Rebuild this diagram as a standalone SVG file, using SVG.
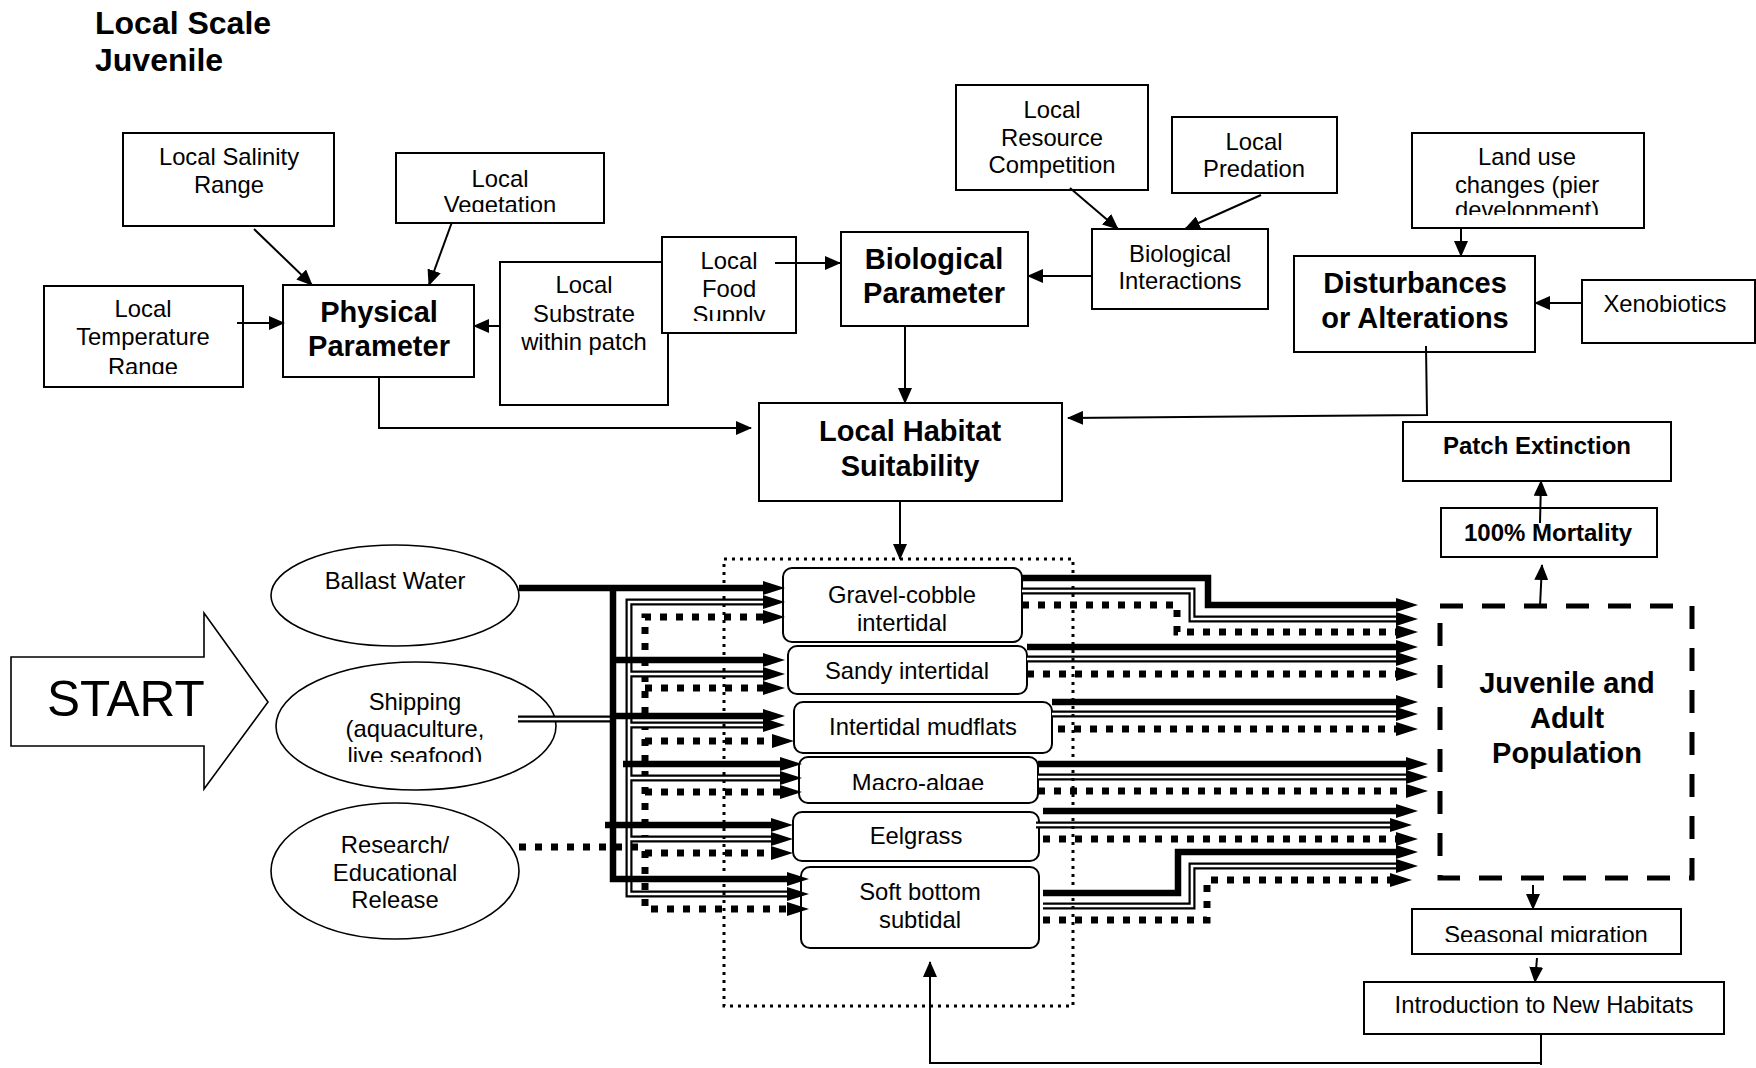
<svg xmlns="http://www.w3.org/2000/svg" width="1756" height="1068" viewBox="0 0 1756 1068">
<defs>
<style>
text{font-family:"Liberation Sans",Arial,sans-serif;fill:#000}
.t{font-size:23.8px;text-anchor:middle}
.b{font-size:29px;font-weight:bold;text-anchor:middle}
.box{fill:#fff;stroke:#000;stroke-width:2}
.ell{fill:#fff;stroke:#000;stroke-width:1.6}
.ln{fill:none;stroke:#000;stroke-width:2}
.thk{fill:none;stroke:#000;stroke-width:6.5}
.dbl{fill:none;stroke:#000;stroke-width:7}
.dblw{fill:none;stroke:#fff;stroke-width:2.6}
.dot{fill:none;stroke:#000;stroke-width:7;stroke-dasharray:7 9}
.frame{fill:none;stroke:#000;stroke-width:3;stroke-dasharray:3 5}
.juv{fill:#fff;stroke:#000;stroke-width:5;stroke-dasharray:23 19}
</style>
<marker id="ah" viewBox="0 0 16 14" refX="15" refY="7" markerWidth="16" markerHeight="14" markerUnits="userSpaceOnUse" orient="auto"><path d="M0,0 L16,7 L0,14 z" fill="#000"/></marker>
<marker id="bh" viewBox="0 0 22 14" refX="0" refY="7" markerWidth="22" markerHeight="14" markerUnits="userSpaceOnUse" orient="auto-start-reverse"><path d="M0,0 L22,7 L0,14 z" fill="#000"/></marker>
<clipPath id="cVeg"><rect x="396" y="153" width="208" height="59"/></clipPath>
<clipPath id="cTemp"><rect x="44" y="286" width="199" height="88"/></clipPath>
<clipPath id="cFood"><rect x="662" y="237" width="134" height="84"/></clipPath>
<clipPath id="cLand"><rect x="1411" y="133" width="233" height="82"/></clipPath>
<clipPath id="cShip"><rect x="275" y="662" width="281" height="100"/></clipPath>
<clipPath id="cMacro"><rect x="799" y="757" width="239" height="33"/></clipPath>
<clipPath id="cSeas"><rect x="1412" y="909" width="269" height="33"/></clipPath>
</defs>
<rect width="1756" height="1068" fill="#fff"/>

<g id="title">
<text x="95" y="34" font-size="32" font-weight="bold">Local Scale</text>
<text x="95" y="71" font-size="32" font-weight="bold">Juvenile</text>
</g>

<g id="local-salinity">
<rect class="box" x="123" y="133" width="211" height="93"/>
<text class="t" x="229" y="165">Local Salinity</text>
<text class="t" x="229" y="193">Range</text>
</g>
<g id="local-vegetation">
<rect class="box" x="396" y="153" width="208" height="70"/>
<g clip-path="url(#cVeg)">
<text class="t" x="500" y="187">Local</text>
<text class="t" x="500" y="213">Vegetation</text>
</g>
</g>
<g id="local-temperature">
<rect class="box" x="44" y="286" width="199" height="101"/>
<g clip-path="url(#cTemp)">
<text class="t" x="143" y="317">Local</text>
<text class="t" x="143" y="345">Temperature</text>
<text class="t" x="143" y="375">Range</text>
</g>
</g>
<g id="physical-parameter">
<rect class="box" x="283" y="285" width="191" height="92"/>
<text class="b" x="379" y="322">Physical</text>
<text class="b" x="379" y="356">Parameter</text>
</g>
<g id="local-substrate">
<rect class="box" x="500" y="262" width="168" height="143"/>
<text class="t" x="584" y="293">Local</text>
<text class="t" x="584" y="322">Substrate</text>
<text class="t" x="584" y="350">within patch</text>
</g>
<g id="local-food">
<rect class="box" x="662" y="237" width="134" height="96"/>
<g clip-path="url(#cFood)">
<text class="t" x="729" y="269">Local</text>
<text class="t" x="729" y="297">Food</text>
<text class="t" x="729" y="323">Supply</text>
</g>
</g>
<g id="biological-parameter">
<rect class="box" x="841" y="232" width="187" height="94"/>
<text class="b" x="934" y="269">Biological</text>
<text class="b" x="934" y="303">Parameter</text>
</g>
<g id="local-resource-competition">
<rect class="box" x="956" y="85" width="192" height="105"/>
<text class="t" x="1052" y="118">Local</text>
<text class="t" x="1052" y="146">Resource</text>
<text class="t" x="1052" y="173">Competition</text>
</g>
<g id="local-predation">
<rect class="box" x="1172" y="117" width="165" height="76"/>
<text class="t" x="1254" y="150">Local</text>
<text class="t" x="1254" y="177">Predation</text>
</g>
<g id="biological-interactions">
<rect class="box" x="1092" y="229" width="176" height="80"/>
<text class="t" x="1180" y="262">Biological</text>
<text class="t" x="1180" y="289">Interactions</text>
</g>
<g id="land-use">
<rect class="box" x="1412" y="133" width="232" height="95"/>
<g clip-path="url(#cLand)">
<text class="t" x="1527" y="165">Land use</text>
<text class="t" x="1527" y="193">changes (pier</text>
<text class="t" x="1527" y="218">development)</text>
</g>
</g>
<g id="disturbances">
<rect class="box" x="1294" y="256" width="241" height="96"/>
<text class="b" x="1415" y="293">Disturbances</text>
<text class="b" x="1415" y="328">or Alterations</text>
</g>
<g id="xenobiotics">
<rect class="box" x="1582" y="280" width="173" height="63"/>
<text class="t" x="1665" y="312">Xenobiotics</text>
</g>
<g id="local-habitat-suitability">
<rect class="box" x="759" y="403" width="303" height="98"/>
<text class="b" x="910" y="441">Local Habitat</text>
<text class="b" x="910" y="476">Suitability</text>
</g>
<g id="patch-extinction">
<rect class="box" x="1403" y="422" width="268" height="59"/>
<text x="1537" y="454" font-size="24" font-weight="bold" text-anchor="middle">Patch Extinction</text>
</g>
<g id="mortality">
<rect class="box" x="1441" y="508" width="216" height="49"/>
<text x="1548" y="541" font-size="24" font-weight="bold" text-anchor="middle">100% Mortality</text>
</g>
<g id="start">
<polygon points="11,657 204,657 204,613 268,702 204,789 204,746 11,746" fill="#fff" stroke="#000" stroke-width="1.6"/>
<text x="47" y="716" font-size="49.5">START</text>
</g>
<g id="ballast-water">
<ellipse class="ell" cx="395" cy="595.5" rx="124" ry="50.5"/>
<text class="t" x="395" y="589">Ballast Water</text>
</g>
<g id="shipping">
<ellipse class="ell" cx="416" cy="726" rx="140" ry="64"/>
<g clip-path="url(#cShip)">
<text class="t" x="415" y="710">Shipping</text>
<text class="t" x="415" y="737">(aquaculture,</text>
<text class="t" x="415" y="764">live seafood)</text>
</g>
</g>
<g id="research-release">
<ellipse class="ell" cx="395" cy="871" rx="124" ry="68"/>
<text class="t" x="395" y="853">Research/</text>
<text class="t" x="395" y="881">Educational</text>
<text class="t" x="395" y="908">Release</text>
</g>
<g id="gravel-cobble">
<rect class="box" x="783" y="568" width="239" height="74" rx="9"/>
<text class="t" x="902" y="603">Gravel-cobble</text>
<text class="t" x="902" y="631">intertidal</text>
</g>
<g id="sandy-intertidal">
<rect class="box" x="788" y="646" width="239" height="48" rx="9"/>
<text class="t" x="907" y="679">Sandy intertidal</text>
</g>
<g id="intertidal-mudflats">
<rect class="box" x="794" y="702" width="258" height="51" rx="9"/>
<text class="t" x="923" y="735">Intertidal mudflats</text>
</g>
<g id="macro-algae">
<rect class="box" x="799" y="757" width="239" height="46" rx="9"/>
<g clip-path="url(#cMacro)"><text class="t" x="918" y="791">Macro-algae</text></g>
</g>
<g id="eelgrass">
<rect class="box" x="793" y="812" width="246" height="49" rx="9"/>
<text class="t" x="916" y="844">Eelgrass</text>
</g>
<g id="soft-bottom">
<rect class="box" x="801" y="867" width="238" height="81" rx="9"/>
<text class="t" x="920" y="900">Soft bottom</text>
<text class="t" x="920" y="928">subtidal</text>
</g>
<g id="juvenile-adult">
<rect class="juv" x="1440" y="606" width="252" height="272"/>
<text class="b" x="1567" y="693">Juvenile and</text>
<text class="b" x="1567" y="728">Adult</text>
<text class="b" x="1567" y="763">Population</text>
</g>
<g id="seasonal-migration">
<rect class="box" x="1412" y="909" width="269" height="45"/>
<g clip-path="url(#cSeas)"><text class="t" x="1546" y="943">Seasonal migration</text></g>
</g>
<g id="introduction">
<rect class="box" x="1364" y="982" width="360" height="52"/>
<text class="t" x="1544" y="1013">Introduction to New Habitats</text>
</g>

<g id="connectors">
<g marker-end="url(#ah)" class="ln">
<path d="M254,229 L312,285"/>
<path d="M452,222 L429,285"/>
<path d="M237,323 H284"/>
<path d="M500,326 H474"/>
<path d="M775,263 H840"/>
<path d="M1092,276 H1028"/>
<path d="M1070,188 L1118,229"/>
<path d="M1261,195 L1185,229"/>
<path d="M905,326 V403"/>
<path d="M1461,228 V256"/>
<path d="M1582,303 H1535"/>
<path d="M379,377 V428 H751"/>
<path d="M1426,346 L1427,415 L1068,418"/>
<path d="M900,501 V559"/>
<path d="M1540,523 L1541,481"/>
<path d="M1540,606 L1542,565"/>
<path d="M1533,885 V909"/>
<path d="M1537,958 L1535,982"/>
<path d="M1541,1063 H930 V962"/>
</g>
<path class="ln" d="M1541,1034 V1065"/>

<g class="dot" marker-end="url(#bh)">
<path d="M519,847 H645" marker-end="none"/>
<path d="M763,617 H645 V909 H787" marker-start="url(#bh)"/>
<path d="M645,688 H763"/>
<path d="M645,741 H772"/>
<path d="M645,792 H780"/>
<path d="M645,853 H771"/>
<path d="M1022,605 H1177 V632 H1396"/>
<path d="M1027,674 H1396"/>
<path d="M1058,729 H1396"/>
<path d="M1038,791 H1406"/>
<path d="M1043,839 H1396"/>
<path d="M1043,920 H1207 V880 H1390"/>
</g>

<g class="dbl" marker-end="url(#bh)">
<path d="M518,719 H613" marker-end="none"/>
<path d="M763,602 H629 V894 H787" marker-start="url(#bh)"/>
<path d="M629,674 H763"/>
<path d="M629,725 H763"/>
<path d="M629,778 H780"/>
<path d="M629,839 H771"/>
<path d="M1022,591 H1192 V619 H1396"/>
<path d="M1027,659 H1396"/>
<path d="M1052,714 H1396"/>
<path d="M1038,777 H1406"/>
<path d="M1036,825 H1390"/>
<path d="M1043,906 H1192 V866 H1396"/>
</g>
<g class="dblw">
<path d="M518,719 H613"/>
<path d="M763,602 H629 V894 H787"/>
<path d="M629,674 H763"/>
<path d="M629,725 H763"/>
<path d="M629,778 H780"/>
<path d="M629,839 H771"/>
<path d="M1022,591 H1192 V619 H1396"/>
<path d="M1027,659 H1396"/>
<path d="M1052,714 H1396"/>
<path d="M1038,777 H1406"/>
<path d="M1036,825 H1390"/>
<path d="M1043,906 H1192 V866 H1396"/>
</g>

<g class="thk" marker-end="url(#bh)">
<path d="M519,588 H763"/>
<path d="M613,588 V879 H787"/>
<path d="M613,660 H763"/>
<path d="M613,716 H763"/>
<path d="M623,764 H780"/>
<path d="M605,825 H771"/>
<path d="M1022,578 H1208 V605 H1396"/>
<path d="M1027,647 H1396"/>
<path d="M1052,702 H1396"/>
<path d="M1038,764 H1406"/>
<path d="M1043,811 H1396"/>
<path d="M1043,893 H1178 V852 H1396"/>
</g>
</g>

<g id="habitat-frame">
<rect class="frame" x="724" y="559" width="349" height="447"/>
</g>
</svg>
